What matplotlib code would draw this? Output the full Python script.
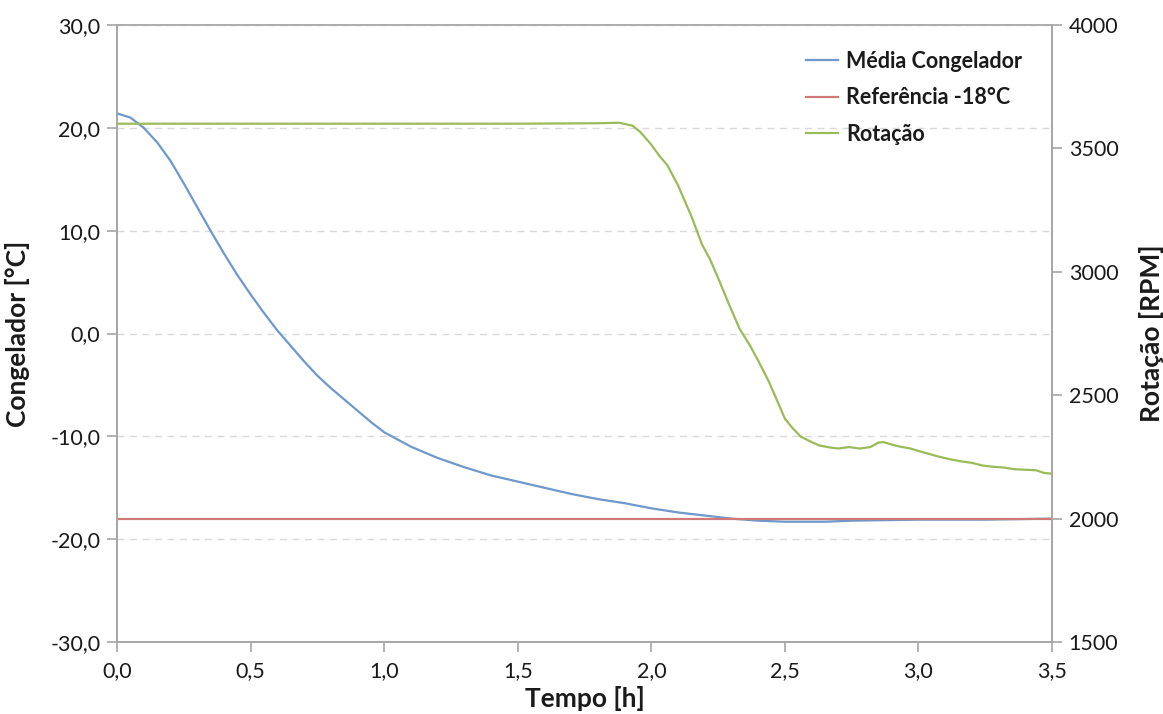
import matplotlib.pyplot as plt
import matplotlib.ticker as mticker
from matplotlib.lines import Line2D

# Média Congelador [°C] vs. tempo [h]
tempo_cong = [0.00, 0.05, 0.10, 0.15, 0.20, 0.25, 0.30, 0.35, 0.40, 0.45, 0.50,
              0.55, 0.60, 0.65, 0.70, 0.75, 0.80, 0.85, 0.90, 0.95, 1.00, 1.05,
              1.10, 1.20, 1.30, 1.40, 1.50, 1.60, 1.70, 1.80, 1.90, 2.00, 2.10,
              2.20, 2.30, 2.40, 2.50, 2.65, 2.75, 3.00, 3.25, 3.50]
media_cong = [21.4, 21.0, 20.0, 18.6, 16.8, 14.6, 12.3, 10.0, 7.8, 5.7, 3.8,
              2.0, 0.3, -1.2, -2.7, -4.1, -5.3, -6.4, -7.5, -8.6, -9.6, -10.3,
              -11.0, -12.1, -13.0, -13.8, -14.4, -15.0, -15.6, -16.1, -16.5,
              -17.0, -17.4, -17.7, -18.0, -18.2, -18.3, -18.3, -18.2, -18.1,
              -18.1, -18.0]

# Referência -18 °C
tempo_ref = [0.0, 3.5]
referencia = [-18.0, -18.0]

# Rotação [RPM] vs. tempo [h]
tempo_rot = [0.00, 0.50, 1.00, 1.50, 1.80, 1.88, 1.93, 1.96, 2.00, 2.03, 2.06,
             2.10, 2.15, 2.19, 2.22, 2.25, 2.29, 2.33, 2.37, 2.40, 2.44, 2.47,
             2.50, 2.53, 2.56, 2.60, 2.63, 2.67, 2.70, 2.74, 2.78, 2.82, 2.85,
             2.87, 2.90, 2.93, 2.97, 3.00, 3.04, 3.08, 3.12, 3.16, 3.20, 3.24,
             3.28, 3.32, 3.36, 3.40, 3.44, 3.47, 3.50]
rotacao = [3600, 3600, 3600, 3600, 3602, 3604, 3592, 3565, 3515, 3470, 3432,
           3350, 3225, 3110, 3050, 2975, 2870, 2770, 2700, 2640, 2555, 2480,
           2405, 2365, 2332, 2310, 2296, 2288, 2284, 2290, 2284, 2290, 2308,
           2310, 2300, 2292, 2284, 2274, 2262, 2250, 2240, 2232, 2226, 2215,
           2210, 2207, 2200, 2198, 2196, 2185, 2182]

cor_media = '#6f98cc'
cor_ref = '#d07a78'
cor_rot = '#9bbb59'
cor_eixo = '#a6a6a6'
cor_texto = '#1a1a1a'

plt.rcParams['font.family'] = ['Lato', 'DejaVu Sans']

fig = plt.figure(figsize=(11.63, 7.14), dpi=100, facecolor='white')
ax = fig.add_axes([0.1006, 0.1008, 0.8040, 0.8642])
ax2 = ax.twinx()

ax.plot(tempo_cong, media_cong, color=cor_media, lw=1.6, zorder=3)
ax.plot(tempo_ref, referencia, color=cor_ref, lw=1.6, zorder=4)
ax2.plot(tempo_rot, rotacao, color=cor_rot, lw=1.6)

ax.set_xlim(0, 3.5)
ax.set_ylim(-30, 30)
ax2.set_ylim(1500, 4000)
ax.set_xticks([0, 0.5, 1.0, 1.5, 2.0, 2.5, 3.0, 3.5])
ax.set_yticks(range(-30, 31, 10))
ax2.set_yticks(range(1500, 4001, 500))

virgula = mticker.FuncFormatter(lambda v, p: f'{v:.1f}'.replace('.', ','))
ax.xaxis.set_major_formatter(virgula)
ax.yaxis.set_major_formatter(virgula)

ax.grid(axis='y', color='#d9d9d9', ls=(0, (5, 4)), lw=1)
ax.set_axisbelow(True)

for a in (ax, ax2):
    for s in a.spines.values():
        s.set_color(cor_eixo)
        s.set_linewidth(1.2)
    a.tick_params(colors=cor_eixo, labelcolor=cor_texto, labelsize=15.5,
                  length=7, width=1.2, direction='out')
ax.spines['top'].set_color('#d0d0d0')
ax.tick_params(axis='x', pad=7)
ax.tick_params(axis='y', pad=5)
ax2.tick_params(axis='y', pad=5)

ax.set_xlabel('Tempo [h]', fontsize=19, fontweight='bold', color=cor_texto)
ax.set_ylabel('Congelador [°C]', fontsize=19, fontweight='bold', color=cor_texto)
ax2.set_ylabel('Rotação [RPM]', fontsize=19, fontweight='bold', color=cor_texto)
ax.xaxis.set_label_coords(0.5, -0.072)
ax.yaxis.set_label_coords(-0.093, 0.5)
ax2.yaxis.set_label_coords(1.093, 0.5)

handles = [Line2D([], [], color=cor_media, lw=1.6),
           Line2D([], [], color=cor_ref, lw=1.6),
           Line2D([], [], color=cor_rot, lw=1.6)]
labels = ['Média Congelador', 'Referência -18°C', 'Rotação']
leg = ax.legend(handles, labels, loc='upper left', bbox_to_anchor=(0.737, 0.958),
                frameon=False, borderpad=0, borderaxespad=0,
                handlelength=1.5, handletextpad=0.35, labelspacing=0.72,
                prop={'size': 15.5, 'weight': 'bold'})
for t in leg.get_texts():
    t.set_color(cor_texto)

fig.savefig('out.png', dpi=100, facecolor='white')
